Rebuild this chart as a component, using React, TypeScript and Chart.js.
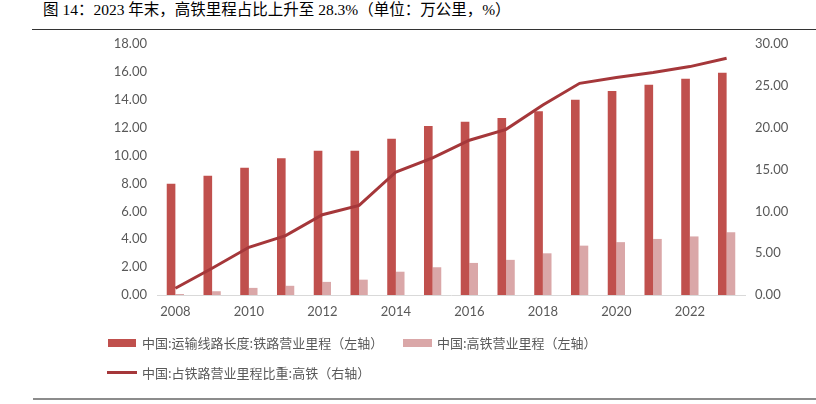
import React, { useEffect, useRef } from "react";
import { Chart, registerables } from "chart.js";

Chart.register(...registerables);

const years: string[] = [
  "2008", "2009", "2010", "2011", "2012", "2013", "2014", "2015",
  "2016", "2017", "2018", "2019", "2020", "2021", "2022", "2023",
];
const railLength: number[] = [
  7.97, 8.55, 9.12, 9.8, 10.35, 10.35, 11.2, 12.12,
  12.43, 12.7, 13.17, 14.0, 14.63, 15.07, 15.5, 15.93,
];
const hsrLength: number[] = [
  0.07, 0.27, 0.51, 0.66, 0.94, 1.1, 1.67, 1.99,
  2.3, 2.52, 2.99, 3.54, 3.79, 4.02, 4.2, 4.5,
];
const hsrShare: number[] = [
  0.8, 3.2, 5.7, 7.1, 9.6, 10.7, 14.7, 16.4,
  18.5, 19.8, 22.7, 25.3, 26.0, 26.6, 27.3, 28.3,
];
const seriesNames: string[] = [
  "中国:运输线路长度:铁路营业里程（左轴）",
  "中国:高铁营业里程（左轴）",
  "中国:占铁路营业里程比重:高铁（右轴）",
];
const titleText = "图 14：2023 年末，高铁里程占比上升至 28.3%（单位：万公里，%）";

const RED = "#C0504D";
const PINK = "#DAA7A8";
const LINE = "#A5373A";
const TICK = "#595959";

export default function App() {
  const ref = useRef<HTMLCanvasElement | null>(null);

  useEffect(() => {
    if (!ref.current) return;
    const tickFont = { family: "Lato, 'Noto Sans', sans-serif", size: 13 };
    const chart = new Chart(ref.current, {
      type: "bar",
      data: {
        labels: years,
        datasets: [
          {
            type: "line",
            label: seriesNames[2],
            data: hsrShare,
            yAxisID: "y1",
            borderColor: LINE,
            backgroundColor: LINE,
            borderWidth: 3,
            pointRadius: 0,
            tension: 0,
            order: 0,
          } as any,
          {
            type: "bar",
            label: seriesNames[0],
            data: railLength,
            yAxisID: "y",
            backgroundColor: RED,
            categoryPercentage: 0.47,
            barPercentage: 1,
            order: 1,
          },
          {
            type: "bar",
            label: seriesNames[1],
            data: hsrLength,
            yAxisID: "y",
            backgroundColor: PINK,
            categoryPercentage: 0.47,
            barPercentage: 1,
            order: 1,
          },
        ],
      },
      options: {
        responsive: false,
        animation: false,
        devicePixelRatio: 1,
        layout: { padding: { left: 100, right: 21, top: 44, bottom: 79 } },
        plugins: { legend: { display: false }, tooltip: { enabled: false } },
        scales: {
          x: {
            grid: { display: false, drawTicks: false },
            border: { display: true, color: "#D9D9D9", width: 1 },
            ticks: {
              autoSkip: false,
              maxRotation: 0,
              color: TICK,
              font: tickFont,
              padding: 9,
              callback: (_v: any, i: number) => (i % 2 === 0 ? years[i] : ""),
            },
            afterFit: (s: any) => {
              s.height = 30;
            },
          },
          y: {
            position: "left",
            min: 0,
            max: 18,
            grid: { display: false, drawTicks: false },
            border: { display: false },
            ticks: {
              stepSize: 2,
              color: TICK,
              font: tickFont,
              padding: 10,
              callback: (v: any) => Number(v).toFixed(2),
            },
            afterFit: (s: any) => {
              s.width = 57;
            },
          },
          y1: {
            position: "right",
            min: 0,
            max: 30,
            grid: { display: false, drawTicks: false },
            border: { display: false },
            ticks: {
              stepSize: 5,
              color: TICK,
              font: tickFont,
              padding: 10,
              callback: (v: any) => Number(v).toFixed(2),
            },
            afterFit: (s: any) => {
              s.width = 50;
            },
          },
        },
      },
    });
    return () => chart.destroy();
  }, []);

  const legendText: React.CSSProperties = {
    position: "absolute",
    fontFamily: "'Noto Sans CJK SC', sans-serif",
    fontSize: 13,
    color: TICK,
    lineHeight: "16px",
    whiteSpace: "nowrap",
  };

  return (
    <div
      style={{
        position: "absolute",
        left: 0,
        top: 0,
        width: 816,
        height: 404,
        background: "#fff",
        overflow: "hidden",
      }}
    >
      <div
        style={{
          position: "absolute",
          left: 43,
          top: 1,
          fontFamily: "'Liberation Serif', 'Noto Sans CJK SC', serif",
          fontSize: 15.5,
          lineHeight: "18px",
          color: "#000",
          whiteSpace: "nowrap",
        }}
      >
        {titleText}
      </div>
      <div style={{ position: "absolute", left: 32, top: 29, width: 784, height: 1, background: "#333" }} />
      <canvas ref={ref} width={816} height={404} style={{ position: "absolute", left: 0, top: 0 }} />
      <div style={{ position: "absolute", left: 108, top: 339, width: 28, height: 8, background: RED }} />
      <div style={{ ...legendText, left: 142, top: 335 }}>{seriesNames[0]}</div>
      <div style={{ position: "absolute", left: 403, top: 339, width: 29, height: 8, background: PINK }} />
      <div style={{ ...legendText, left: 437, top: 335 }}>{seriesNames[1]}</div>
      <div style={{ position: "absolute", left: 107, top: 371, width: 30, height: 3, background: LINE }} />
      <div style={{ ...legendText, left: 142, top: 365 }}>{seriesNames[2]}</div>
      <div style={{ position: "absolute", left: 33, top: 398, width: 783, height: 2, background: "#8C8C8C" }} />
    </div>
  );
}
